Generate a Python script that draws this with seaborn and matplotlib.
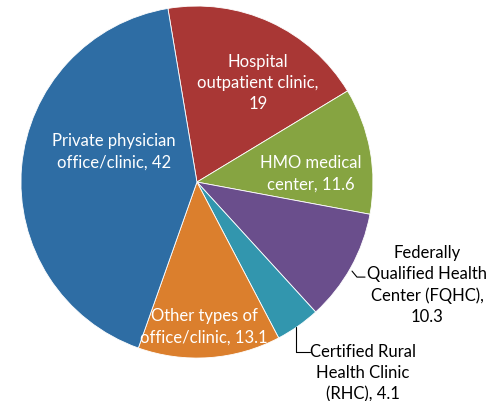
import matplotlib
matplotlib.use('Agg')
import seaborn as sns
import matplotlib.pyplot as plt

# share of visits by setting (clockwise from top)
categories = ['Hospital\noutpatient clinic,', 'HMO medical\ncenter,', 'Federally\nQualified Health\nCenter (FQHC),',
              'Certified Rural\nHealth Clinic\n(RHC),', 'Other types of\noffice/clinic,', 'Private physician\noffice/clinic,']
values = [19, 11.6, 10.3, 4.1, 13.1, 42]
value_text = ['\n19', ' 11.6', '\n10.3', ' 4.1', ' 13.1', ' 42']
colors = ['#A93735', '#86A441', '#6A4E8C', '#3296AE', '#DB7F2D', '#2E6DA4']

# label placement (data units, pie radius = 1)
label_pos = [(0.347, 0.568), (0.648, 0.051), (1.307, -0.58), (0.943, -1.08), (0.04, -0.818), (-0.472, 0.176)]
label_col = ['white', 'white', 'black', 'black', 'white', 'white']

sns.set_theme(style='white')
plt.rcParams['font.family'] = ['Lato', 'DejaVu Sans']

fig = plt.figure(figsize=(4.96, 4.02), dpi=100)
ax = fig.add_axes([0, 0, 1, 1])
ax.pie(values, colors=sns.color_palette(colors), startangle=99.5, counterclock=False,
       wedgeprops=dict(edgecolor='white', linewidth=0.6))

for cat, vt, pos, col in zip(categories, value_text, label_pos, label_col):
  ax.text(pos[0], pos[1], cat + vt, ha='center', va='center', color=col,
          fontsize=12, linespacing=1.4)

# leader lines for the small outside labels
ax.plot([0.881, 0.909, 0.955], [-0.506, -0.54, -0.54], color='black', lw=0.8)
ax.plot([0.5625, 0.5625, 0.642], [-0.824, -0.966, -0.966], color='black', lw=0.8)

ax.set_xlim(-1.119, 1.699)
ax.set_ylim(-1.244, 1.04)
ax.axis('off')
fig.savefig('out.png', dpi=100)
